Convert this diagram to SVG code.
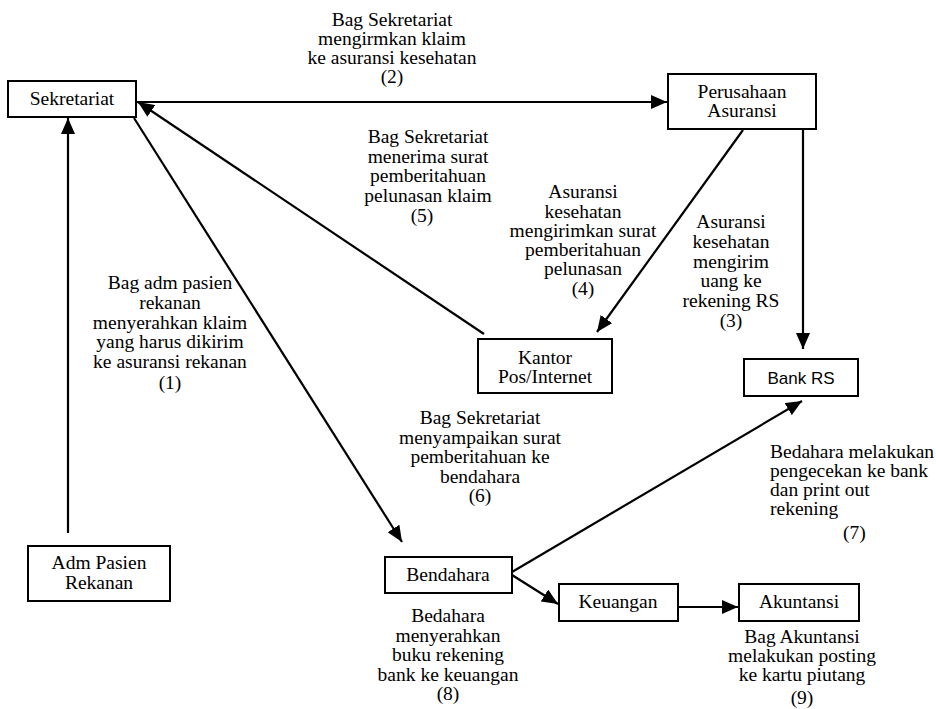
<svg xmlns="http://www.w3.org/2000/svg" width="936" height="709" viewBox="0 0 936 709">
<defs>
<marker id="ah" viewBox="0 0 16 14" refX="16" refY="7" markerWidth="16" markerHeight="14" markerUnits="userSpaceOnUse" orient="auto">
<path d="M0,0 L16,7 L0,14 z" fill="#000"/>
</marker>
</defs>
<style>
.box{fill:#fff;stroke:#000;stroke-width:2}
.t{font-family:"Liberation Serif","Times New Roman",serif;font-size:19.5px;fill:#000;text-anchor:middle}
.s{font-family:"Liberation Sans",Arial,sans-serif;font-size:17px;fill:#000;text-anchor:middle}
.l{font-family:"Liberation Serif","Times New Roman",serif;font-size:19.5px;fill:#000}
.c line{stroke:#000;stroke-width:2.2;marker-end:url(#ah)}
</style>
<rect width="936" height="709" fill="#fff"/>
<g id="connectors" class="c">
<line x1="68" y1="533" x2="68" y2="118"/>
<line x1="137" y1="102" x2="667" y2="102"/>
<line x1="484" y1="334" x2="138" y2="102"/>
<line x1="134" y1="118" x2="402" y2="542"/>
<line x1="743" y1="130" x2="597" y2="332"/>
<line x1="803" y1="129" x2="803" y2="349"/>
<line x1="512" y1="572" x2="802" y2="401"/>
<line x1="512" y1="575" x2="558" y2="604"/>
<line x1="678" y1="607" x2="738" y2="607"/>
</g>
<g id="sekretariat"><rect class="box" x="8" y="81" width="128" height="36"/><text class="t" x="72" y="105">Sekretariat</text></g>
<g id="perusahaan"><rect class="box" x="668" y="74" width="148" height="55"/><text class="t" x="742" y="98">Perusahaan</text><text class="t" x="742" y="117">Asuransi</text></g>
<g id="kantor"><rect class="box" x="478" y="339" width="134" height="54"/><text class="t" x="545" y="364">Kantor</text><text class="t" x="545" y="383">Pos/Internet</text></g>
<g id="bankrs"><rect class="box" x="744" y="359" width="114" height="37"/><text class="s" x="801" y="384">Bank RS</text></g>
<g id="admpasien"><rect class="box" x="28" y="546" width="142" height="55"/><text class="t" x="99" y="569">Adm Pasien</text><text class="t" x="99" y="589">Rekanan</text></g>
<g id="bendahara"><rect class="box" x="385" y="557" width="127" height="36"/><text class="t" x="448" y="581">Bendahara</text></g>
<g id="keuangan"><rect class="box" x="559" y="584" width="119" height="37"/><text class="t" x="618" y="608">Keuangan</text></g>
<g id="akuntansi"><rect class="box" x="739" y="584" width="120" height="37"/><text class="t" x="799" y="608">Akuntansi</text></g>
<g id="labels">
<text class="t" x="392" y="26">Bag Sekretariat</text>
<text class="t" x="392" y="45">mengirmkan klaim</text>
<text class="t" x="392" y="64">ke asuransi kesehatan</text>
<text class="t" x="392" y="83">(2)</text>

<text class="t" x="428" y="143">Bag Sekretariat</text>
<text class="t" x="428" y="163">menerima surat</text>
<text class="t" x="428" y="182">pemberitahuan</text>
<text class="t" x="428" y="202">pelunasan klaim</text>
<text class="t" x="422" y="222">(5)</text>

<text class="t" x="583" y="198">Asuransi</text>
<text class="t" x="583" y="218">kesehatan</text>
<text class="t" x="583" y="237">mengirimkan surat</text>
<text class="t" x="583" y="256">pemberitahuan</text>
<text class="t" x="583" y="275">pelunasan</text>
<text class="t" x="583" y="295">(4)</text>

<text class="t" x="731" y="228">Asuransi</text>
<text class="t" x="731" y="248">kesehatan</text>
<text class="t" x="731" y="268">mengirim</text>
<text class="t" x="731" y="287">uang ke</text>
<text class="t" x="731" y="307">rekening RS</text>
<text class="t" x="731" y="327">(3)</text>

<text class="t" x="170" y="289">Bag adm pasien</text>
<text class="t" x="170" y="309">rekanan</text>
<text class="t" x="170" y="329">menyerahkan klaim</text>
<text class="t" x="170" y="348">yang harus dikirim</text>
<text class="t" x="170" y="368">ke asuransi rekanan</text>
<text class="t" x="170" y="389">(1)</text>

<text class="t" x="480" y="424">Bag Sekretariat</text>
<text class="t" x="480" y="444">menyampaikan surat</text>
<text class="t" x="480" y="463">pemberitahuan ke</text>
<text class="t" x="480" y="483">bendahara</text>
<text class="t" x="480" y="502">(6)</text>

<text class="l" x="770" y="458">Bedahara melakukan</text>
<text class="l" x="770" y="477">pengecekan ke bank</text>
<text class="l" x="770" y="496">dan print out</text>
<text class="l" x="770" y="515">rekening</text>
<text class="l" x="843" y="539">(7)</text>

<text class="t" x="448" y="622">Bedahara</text>
<text class="t" x="448" y="642">menyerahkan</text>
<text class="t" x="448" y="661">buku rekening</text>
<text class="t" x="448" y="681">bank ke keuangan</text>
<text class="t" x="448" y="700">(8)</text>

<text class="t" x="802" y="643">Bag Akuntansi</text>
<text class="t" x="802" y="662">melakukan posting</text>
<text class="t" x="802" y="681">ke kartu piutang</text>
<text class="t" x="802" y="704">(9)</text>
</g>
</svg>
